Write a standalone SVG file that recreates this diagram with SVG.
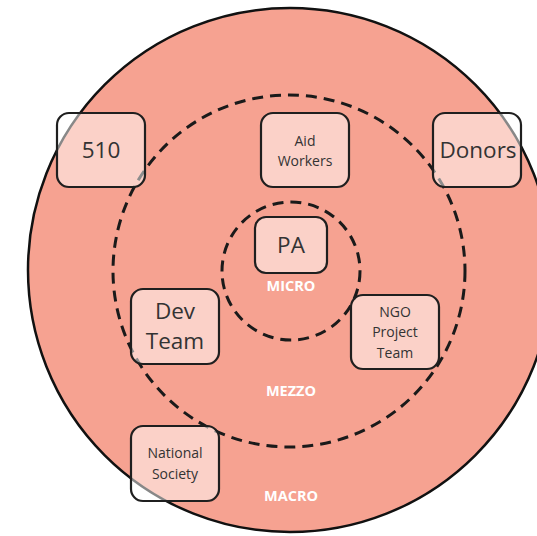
<svg xmlns="http://www.w3.org/2000/svg" width="537" height="536" viewBox="0 0 537 536">
  <style>
    .ring { fill: none; stroke: #1a1a1a; stroke-width: 3; stroke-dasharray: 11 7; }
    .box { fill: #ffffff; fill-opacity: 0.5; stroke: #1f1f1f; stroke-width: 2.2; }
    .lbl { font-family: "Open Sans", "Liberation Sans", sans-serif; fill: #333333; text-anchor: middle; dominant-baseline: central; }
    .big { font-size: 22.5px; }
    .small { font-size: 14px; }
    .level { font-family: "Open Sans", "Liberation Sans", sans-serif; font-weight: bold; font-size: 14.5px; fill: #ffffff; text-anchor: middle; dominant-baseline: central; }
  </style>
  <rect width="537" height="536" fill="#ffffff"/>

  <!-- outer (macro) area -->
  <circle cx="290" cy="270" r="262" fill="#f6a291" stroke="#111111" stroke-width="2.5"/>

  <!-- dashed level rings -->
  <g id="rings">
    <circle class="ring" cx="289" cy="271" r="176"/>
    <circle class="ring" cx="291" cy="271" r="69"/>
  </g>

  <!-- level labels -->
  <text class="level" x="291" y="285">MICRO</text>
  <text class="level" x="291" y="390">MEZZO</text>
  <text class="level" x="291" y="495">MACRO</text>

  <g id="n510">
    <rect class="box" x="57" y="113" width="88" height="74" rx="12"/>
    <text class="lbl big" x="101" y="149">510</text>
  </g>
  <g id="aid-workers">
    <rect class="box" x="261" y="113" width="88" height="74" rx="12"/>
    <text class="lbl small" x="305" y="140">Aid</text>
    <text class="lbl small" x="305" y="160">Workers</text>
  </g>
  <g id="donors">
    <rect class="box" x="433" y="113" width="88" height="74" rx="12"/>
    <text class="lbl big" x="478" y="149">Donors</text>
  </g>
  <g id="pa">
    <rect class="box" x="255" y="217" width="72" height="56" rx="11"/>
    <text class="lbl big" x="291" y="244">PA</text>
  </g>
  <g id="dev-team">
    <rect class="box" x="131" y="289" width="88" height="75" rx="12"/>
    <text class="lbl big" x="175" y="310">Dev</text>
    <text class="lbl big" x="175" y="340">Team</text>
  </g>
  <g id="ngo-project-team">
    <rect class="box" x="351" y="295" width="88" height="74" rx="12"/>
    <text class="lbl small" x="395" y="311">NGO</text>
    <text class="lbl small" x="395" y="331">Project</text>
    <text class="lbl small" x="395" y="352">Team</text>
  </g>
  <g id="national-society">
    <rect class="box" x="131" y="426" width="88" height="75" rx="12"/>
    <text class="lbl small" x="175" y="452">National</text>
    <text class="lbl small" x="175" y="473">Society</text>
  </g>

  <g id="connectors"></g>
</svg>
